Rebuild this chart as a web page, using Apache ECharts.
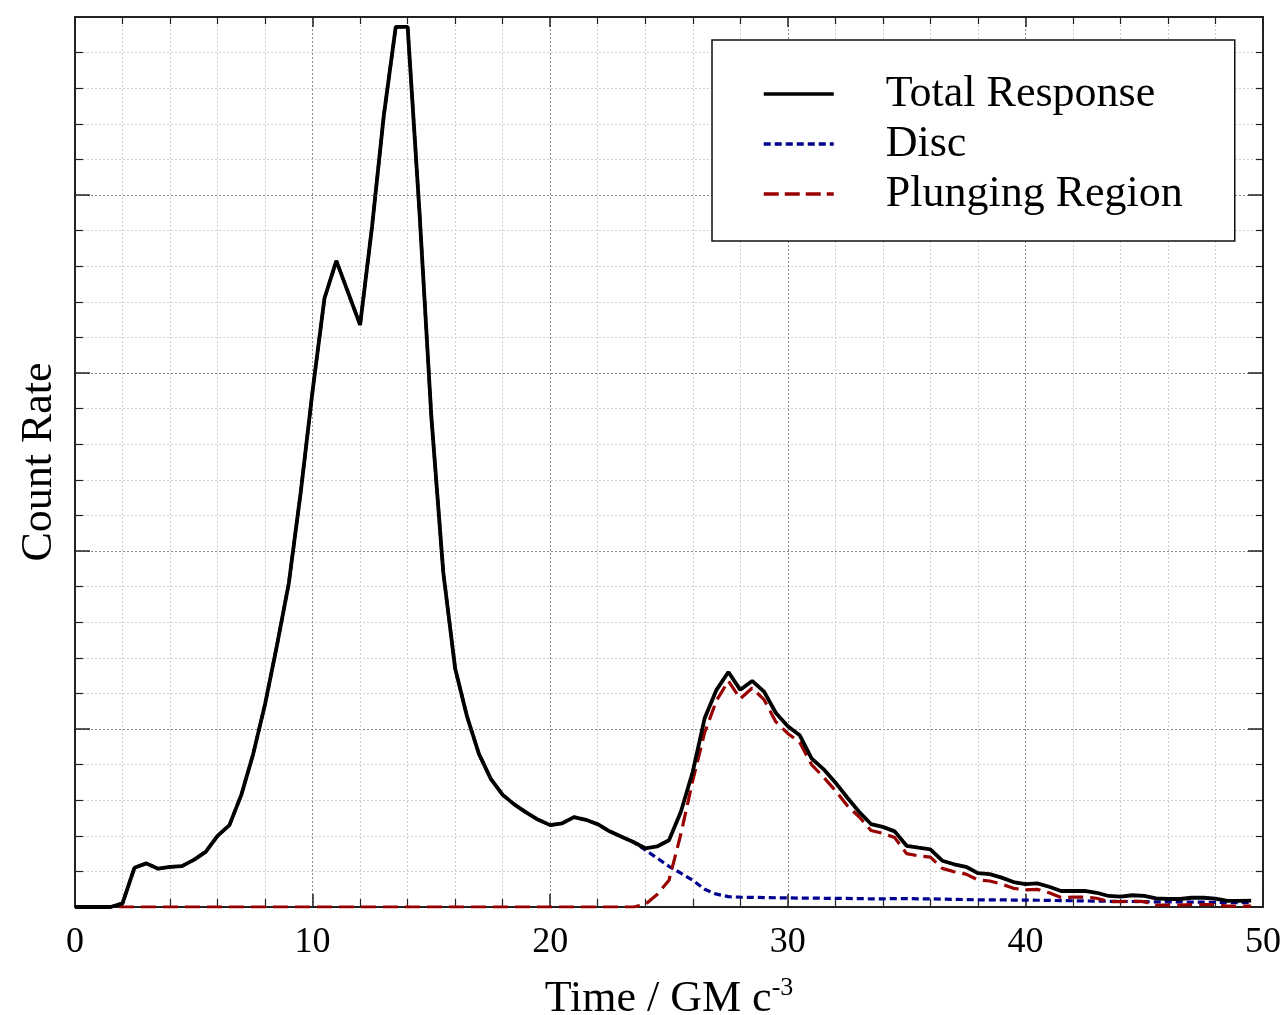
<!DOCTYPE html>
<html>
<head>
<meta charset="utf-8">
<script src="https://cdn.jsdelivr.net/npm/echarts@6/dist/echarts.min.js"></script>
<style>
html,body{margin:0;padding:0;background:#fff;}
#chart{width:1280px;height:1015px;}
</style>
</head>
<body>
<div id="chart"></div>
<script>
// Time samples (GM c^-3)
var time = [];
for (var i = 0; i < 100; i++) time.push(i * 0.5);

var totalResponse = [
  0, 0, 0, 0, 0.02, 0.22, 0.245, 0.215, 0.225, 0.23,
  0.265, 0.31, 0.40, 0.46, 0.63, 0.86, 1.14, 1.47, 1.82, 2.33,
  2.90, 3.42, 3.63, 3.45, 3.27, 3.82, 4.45, 4.945, 4.945, 3.90,
  2.75, 1.88, 1.34, 1.07, 0.86, 0.72, 0.63, 0.575, 0.53, 0.49,
  0.46, 0.47, 0.505, 0.49, 0.465, 0.425, 0.395, 0.365, 0.33, 0.34,
  0.375, 0.535, 0.76, 1.06, 1.22, 1.32, 1.22, 1.27, 1.21, 1.09,
  1.015, 0.965, 0.835, 0.775, 0.70, 0.615, 0.535, 0.466, 0.45, 0.425,
  0.344, 0.333, 0.324, 0.26, 0.24, 0.226, 0.19, 0.185, 0.165, 0.14,
  0.128, 0.133, 0.114, 0.09, 0.09, 0.09, 0.08, 0.062, 0.058, 0.066,
  0.062, 0.049, 0.045, 0.045, 0.052, 0.052, 0.047, 0.034, 0.034, 0.036
];

var disc = [
  0, 0, 0, 0, 0.02, 0.22, 0.245, 0.215, 0.225, 0.23,
  0.265, 0.31, 0.40, 0.46, 0.63, 0.86, 1.14, 1.47, 1.82, 2.33,
  2.90, 3.42, 3.63, 3.45, 3.27, 3.82, 4.45, 4.945, 4.945, 3.90,
  2.75, 1.88, 1.34, 1.07, 0.86, 0.72, 0.63, 0.575, 0.53, 0.49,
  0.46, 0.47, 0.505, 0.49, 0.465, 0.425, 0.395, 0.365, 0.32, 0.275,
  0.228, 0.19, 0.15, 0.10, 0.072, 0.058, 0.055, 0.054, 0.053, 0.052,
  0.051, 0.050, 0.050, 0.049, 0.048, 0.048, 0.047, 0.046, 0.046, 0.047,
  0.047, 0.046, 0.046, 0.044, 0.043, 0.042, 0.040, 0.040, 0.040, 0.039,
  0.039, 0.038, 0.037, 0.036, 0.035, 0.034, 0.033, 0.032, 0.031, 0.031,
  0.030, 0.029, 0.029, 0.028, 0.028, 0.027, 0.026, 0.025, 0.025, 0.024
];

var plungingRegion = [
  0, 0, 0, 0, 0, 0, 0, 0, 0, 0,
  0, 0, 0, 0, 0, 0, 0, 0, 0, 0,
  0, 0, 0, 0, 0, 0, 0, 0, 0, 0,
  0, 0, 0, 0, 0, 0, 0, 0, 0, 0,
  0, 0, 0, 0, 0, 0, 0, 0, 0.015, 0.07,
  0.15, 0.41, 0.71, 0.98, 1.16, 1.27, 1.17, 1.23, 1.165, 1.04,
  0.975, 0.925, 0.80, 0.73, 0.655, 0.57, 0.507, 0.43, 0.414, 0.39,
  0.30, 0.287, 0.28, 0.217, 0.198, 0.185, 0.152, 0.146, 0.129, 0.105,
  0.096, 0.099, 0.08, 0.054, 0.055, 0.055, 0.049, 0.03, 0.03, 0.033,
  0.03, 0.011, 0.011, 0.011, 0.014, 0.014, 0.014, 0.005, 0.005, 0.005
];

var xTicks = [0, 10, 20, 30, 40, 50];
var seriesNames = ['Total Response', 'Disc', 'Plunging Region'];

function pairs(vals) {
  return time.map(function (t, i) { return [t, vals[i]]; });
}

var FONT = 'Liberation Serif';
var majorGrid = { show: true, lineStyle: { color: '#8a8a8a', width: 1, type: [2, 2] } };
var minorGrid = { show: true, lineStyle: { color: '#cfcfcf', width: 1, type: [2, 2] } };
var axisLine = { show: true, onZero: false, lineStyle: { color: '#222', width: 2 } };

var chart = echarts.init(document.getElementById('chart'));
chart.setOption({
  animation: false,
  backgroundColor: '#fff',
  grid: { left: 75, right: 17, top: 17, bottom: 108, containLabel: false, outerBoundsMode: 'none' },
  legend: {
    orient: 'vertical',
    left: 712,
    top: 40,
    padding: [29, 52, 22, 50],
    itemGap: 0,
    itemWidth: 70,
    itemHeight: 14,
    borderColor: '#111',
    borderWidth: 1.5,
    backgroundColor: '#fff',
    itemStyle: { opacity: 0 },
    data: [
      { name: seriesNames[0], lineStyle: { width: 3.5, color: '#000', type: 'solid' } },
      { name: seriesNames[1], lineStyle: { width: 3.5, color: '#00008f', type: [7, 4] } },
      { name: seriesNames[2], lineStyle: { width: 3.5, color: '#990000', type: [15, 6] } }
    ],
    textStyle: { fontFamily: FONT, fontSize: 44, color: '#000', lineHeight: 50, padding: [0, 0, 0, 47] }
  },
  xAxis: [{
    type: 'value', position: 'bottom', min: xTicks[0], max: xTicks[xTicks.length - 1], interval: 10,
    axisLine: axisLine,
    axisTick: { show: true, inside: true, length: 13, lineStyle: { color: '#222', width: 1.5 } },
    minorTick: { show: true, splitNumber: 5, length: 8, lineStyle: { color: '#222', width: 1.2 } },
    splitLine: majorGrid,
    minorSplitLine: minorGrid,
    axisLabel: { fontFamily: FONT, fontSize: 36, color: '#000', margin: 18 },
    name: '{a|Time / GM c}{s|-3}',
    nameLocation: 'middle',
    nameGap: 68,
    nameTextStyle: {
      rich: {
        a: { fontFamily: FONT, fontSize: 44, color: '#000' },
        s: { fontFamily: FONT, fontSize: 26, color: '#000', padding: [0, 0, 22, 0] }
      }
    }
  }, {
    type: 'value', position: 'top', min: xTicks[0], max: xTicks[xTicks.length - 1], interval: 10,
    axisLine: axisLine,
    axisTick: { show: true, inside: true, length: 10, lineStyle: { color: '#222', width: 1.5 } },
    minorTick: { show: true, splitNumber: 5, length: 7, lineStyle: { color: '#222', width: 1.2 } },
    splitLine: { show: false },
    axisLabel: { show: false }
  }],
  yAxis: [{
    type: 'value', position: 'left', min: 0, max: 5, interval: 1,
    axisLine: axisLine,
    axisTick: { show: true, inside: true, length: 15, lineStyle: { color: '#222', width: 1.5 } },
    minorTick: { show: true, splitNumber: 5, length: 8, lineStyle: { color: '#222', width: 1.2 } },
    splitLine: majorGrid,
    minorSplitLine: minorGrid,
    axisLabel: { show: false },
    name: 'Count Rate',
    nameLocation: 'middle',
    nameGap: 14,
    nameRotate: 90,
    nameTextStyle: { fontFamily: FONT, fontSize: 44, color: '#000' }
  }, {
    type: 'value', position: 'right', min: 0, max: 5, interval: 1,
    axisLine: axisLine,
    axisTick: { show: true, inside: true, length: 15, lineStyle: { color: '#222', width: 1.5 } },
    minorTick: { show: true, splitNumber: 5, length: 7, lineStyle: { color: '#222', width: 1.2 } },
    splitLine: { show: false },
    axisLabel: { show: false }
  }],
  series: [{
    name: seriesNames[1], type: 'line', data: pairs(disc), symbol: 'none', z: 3,
    lineStyle: { color: '#00008f', width: 3.2, type: [7, 4] }, itemStyle: { color: '#00008f' }
  }, {
    name: seriesNames[2], type: 'line', data: pairs(plungingRegion), symbol: 'none', z: 4,
    lineStyle: { color: '#990000', width: 3.2, type: [15, 7] }, itemStyle: { color: '#990000' }
  }, {
    name: seriesNames[0], type: 'line', data: pairs(totalResponse), symbol: 'none', z: 5,
    lineStyle: { color: '#000', width: 3.8 }, itemStyle: { color: '#000' }
  }]
});
</script>
</body>
</html>
